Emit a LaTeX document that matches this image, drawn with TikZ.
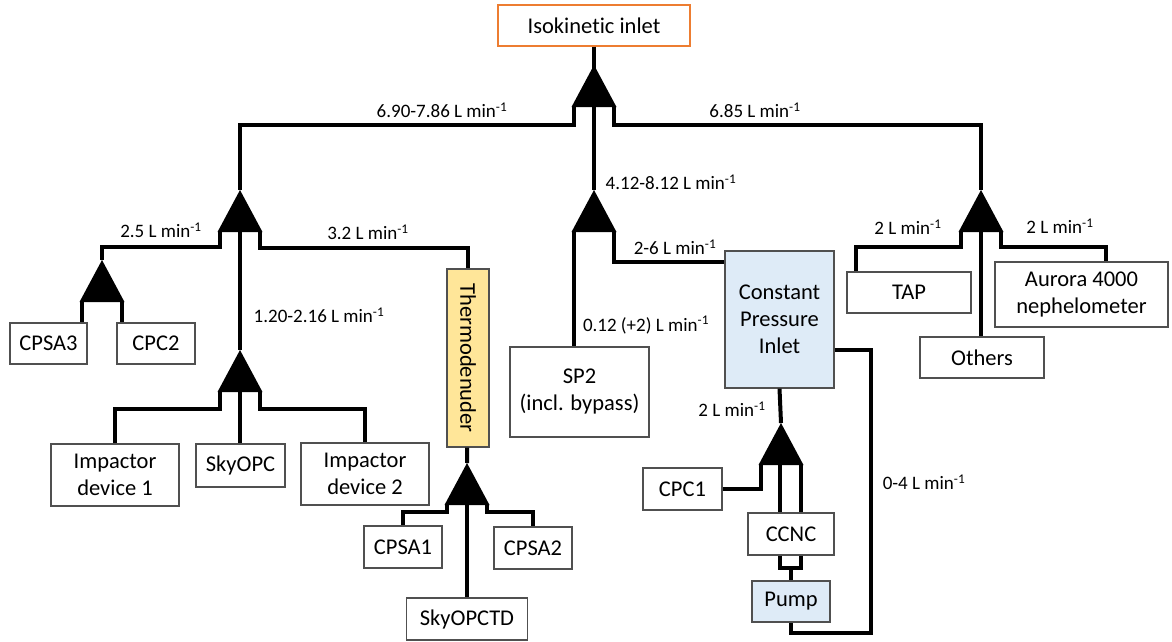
\documentclass[tikz,border=0pt]{standalone}
\usepackage{fontspec}
\setmainfont{Carlito}[Ligatures=NoCommon]
\usetikzlibrary{shapes.geometric}

\definecolor{inletorange}{HTML}{ED7D31}
\definecolor{boxgray}{HTML}{505050}
\definecolor{pressblue}{HTML}{DEEBF7}
\definecolor{denuderyellow}{HTML}{FFE699}

\newcommand{\lpm}{L min\textsuperscript{-1}}

\begin{document}
\begin{tikzpicture}[x=1pt,y=-1pt,
    box/.style={draw=boxgray,line width=1.2pt,align=center,inner sep=0pt,
      font=\fontsize{22.5}{27}\selectfont},
    split/.style={isosceles triangle,isosceles triangle stretches,
      shape border rotate=90,fill=black,minimum width=45pt,minimum height=42pt,
      inner sep=0pt,outer sep=0pt,anchor=apex},
    flow/.style={font=\fontsize{19}{22}\selectfont},
    pipe/.style={draw,line width=4pt}]
  \useasboundingbox (0,0) rectangle (1172,641);

  \node[box,draw=inletorange,minimum width=192pt,minimum height=41pt] (inlet) at (594,25.5) {Isokinetic inlet};

  \node[split] (t0) at (594,65) {};
  \node[split] (t1) at (240,190) {};
  \node[split] (t2) at (594,190) {};
  \node[split] (t3) at (981,190) {};
  \node[split] (t4) at (102,260) {};
  \node[split] (t5) at (240,350) {};
  \node[split] (t6) at (467,463) {};
  \node[split] (t7) at (781,423) {};

  \node[box,minimum width=77pt,minimum height=41pt] (cpsa3) at (48.5,343.5) {CPSA3};
  \node[box,minimum width=78pt,minimum height=41pt] (cpc2) at (156,343.5) {CPC2};
  \node[box,minimum width=128pt,minimum height=62pt] (imp1) at (115,475) {Impactor\\device 1};
  \node[box,minimum width=89pt,minimum height=43pt] (skyopc) at (240.5,465.5) {SkyOPC};
  \node[box,minimum width=128pt,minimum height=62pt] (imp2) at (365,474) {Impactor\\device 2};
  \node[box,fill=denuderyellow,rotate=-90,minimum width=178pt,minimum height=42pt] (denuder) at (468,358) {Thermodenuder};
  \node[box,minimum width=78pt,minimum height=42pt] (cpsa1) at (403,547) {CPSA1};
  \node[box,minimum width=78pt,minimum height=42pt] (cpsa2) at (533,548) {CPSA2};
  \node[box,minimum width=121pt,minimum height=42pt] (skyopctd) at (467,619) {SkyOPCTD};
  \node[box,minimum width=139pt,minimum height=90pt] (sp2) at (579.5,392) {SP2\\(incl. bypass)};
  \node[box,fill=pressblue,minimum width=109pt,minimum height=137pt] (cpi) at (779.5,319.5) {Constant\\Pressure\\Inlet};
  \node[box,minimum width=79pt,minimum height=42pt] (cpc1) at (682.5,489) {CPC1};
  \node[box,minimum width=86pt,minimum height=42pt] (ccnc) at (791,534) {CCNC};
  \node[box,fill=pressblue,minimum width=78pt,minimum height=41pt] (pump) at (791,601.5) {Pump};
  \node[box,minimum width=124pt,minimum height=41pt] (tap) at (909,292.5) {TAP};
  \node[box,minimum width=173pt,minimum height=65pt] (aurora) at (1081.5,294.5) {Aurora 4000\\nephelometer};
  \node[box,minimum width=124pt,minimum height=41pt] (others) at (982,357.5) {Others};

  \coordinate (ccncjoin) at (791,568);
  \coordinate (loop) at (871,633);

  \draw[pipe] (inlet.south) -- (t2.apex);
  \draw[pipe] ([xshift=-20pt]t0.lower side) -- ++(0,18) -| (t1.apex);
  \draw[pipe] ([xshift=20pt]t0.lower side) -- ++(0,18) -| (t3.apex);

  \draw[pipe] ([xshift=-20pt]t1.lower side) -- ++(0,15) -| (t4.apex);
  \draw[pipe] (t1.lower side) -- (t5.apex);
  \draw[pipe] ([xshift=20pt]t1.lower side) -- ++(0,16) -| (denuder);

  \draw[pipe] ([xshift=-20pt]t4.lower side) -- ([xshift=-20pt]t4.lower side |- cpsa3.north);
  \draw[pipe] ([xshift=20pt]t4.lower side) -- ([xshift=20pt]t4.lower side |- cpc2.north);

  \draw[pipe] ([xshift=-20pt]t5.lower side) -- ++(0,17) -| (imp1);
  \draw[pipe] (t5.lower side) -- (t5.lower side |- skyopc.north);
  \draw[pipe] ([xshift=20pt]t5.lower side) -- ++(0,17) -| (imp2);

  \draw[pipe] (denuder) -- (t6.apex);
  \draw[pipe] ([xshift=-20pt]t6.lower side) -- ++(0,7) -| (cpsa1);
  \draw[pipe] (t6.lower side) -- (t6.lower side |- skyopctd.north);
  \draw[pipe] ([xshift=20pt]t6.lower side) -- ++(0,7) -| (cpsa2);

  \draw[pipe] ([xshift=-20pt]t2.lower side) -- ([xshift=-20pt]t2.lower side |- sp2.north);
  \draw[pipe] ([xshift=20pt]t2.lower side) |- ([yshift=-12pt]cpi.north west);

  \draw[pipe] ([xshift=-20pt]t3.lower side) -- ++(0,15) -| ([xshift=-53pt]tap.north);
  \draw[pipe] (t3.lower side) -- (t3.lower side |- others.north);
  \draw[pipe] ([xshift=20pt]t3.lower side) -- ++(0,15) -| ([xshift=24.5pt]aurora.north);

  \draw[pipe] (cpi.south) -- (t7.apex);
  \draw[pipe] ([xshift=-20pt]t7.lower side) |- (cpc1);
  \draw[pipe] ([xshift=-1pt]t7.lower side) -- ([xshift=-1pt]t7.lower side |- ccnc.north);
  \draw[pipe] ([xshift=20pt]t7.lower side) -- ([xshift=20pt]t7.lower side |- ccnc.north);
  \draw[pipe] ([xshift=-1pt]t7.lower side |- ccnc.south) |- (ccncjoin) -| ([xshift=20pt]t7.lower side |- ccnc.south);
  \draw[pipe] (ccncjoin) -- (ccncjoin |- pump.north);
  \draw[pipe] ([yshift=-30pt]cpi.east) -| (loop) -| (pump.south);

  \node[flow] (q0) at (442,110) {6.90-7.86 \lpm};
  \node[flow] (q1) at (755,110) {6.85 \lpm};
  \node[flow] (q2) at (671,182) {4.12-8.12 \lpm};
  \node[flow] (q3) at (161,230) {2.5 \lpm};
  \node[flow] (q4) at (368,232) {3.2 \lpm};
  \node[flow] (q5) at (319,315) {1.20-2.16 \lpm};
  \node[flow] (q6) at (675,247) {2-6 \lpm};
  \node[flow] (q7) at (646,325) {0.12 (+2) \lpm};
  \node[flow] (q8) at (908,227) {2 \lpm};
  \node[flow] (q9) at (1060,226) {2 \lpm};
  \node[flow] (q10) at (732,409) {2 \lpm};
  \node[flow] (q11) at (924,482) {0-4 \lpm};
\end{tikzpicture}
\end{document}
